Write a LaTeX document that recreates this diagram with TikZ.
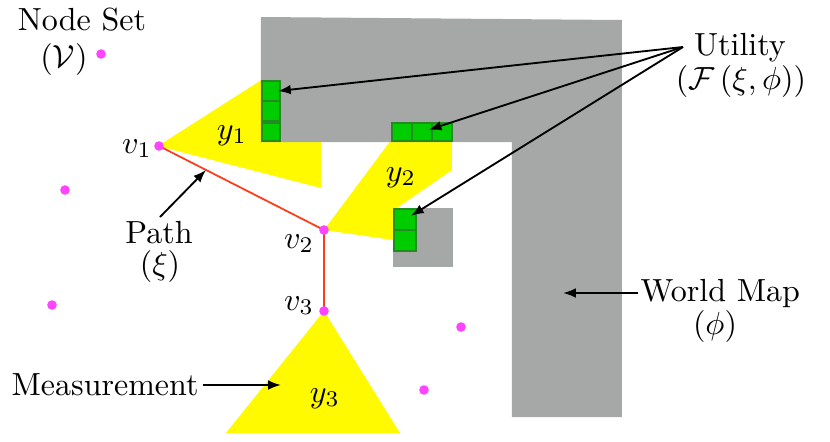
\documentclass[tikz,border=0pt]{standalone}
\usetikzlibrary{arrows.meta,calc}
\definecolor{mapgray}{RGB}{165,168,166}
\definecolor{fovyellow}{RGB}{255,250,0}
\definecolor{cellgreen}{RGB}{0,204,0}
\definecolor{celledge}{RGB}{34,140,34}
\definecolor{dotmag}{RGB}{255,68,255}
\definecolor{pathred}{RGB}{255,59,26}
\tikzset{
  lbl/.style={inner sep=0pt,anchor=base,font=\fontsize{10}{11.56}\selectfont},
  cell/.style={draw=celledge,line width=0.4pt,fill=cellgreen,inner sep=0pt,outer sep=0pt},
  arr/.style={draw=black,line width=0.58pt,-{Latex[length=4pt,width=3pt]}},
  dot/.style={circle,fill=dotmag,inner sep=0pt,minimum size=3pt},
  fov/.style={fill=fovyellow},
}
\begin{document}
\begin{tikzpicture}[x=0.3125pt,y=-0.3125pt]
\useasboundingbox[fill=white] (0,0) rectangle (830,442);
% fields of view
\fill[fov] (158,146) -- (321,42) -- (321,188) -- cycle;
\fill[fov] (324,230) -- (406,120) -- (452,120) -- (452,170) -- (396,208.5) -- (400,241) -- cycle;
\fill[fov] (324,311) -- (400,433) -- (226,433) -- cycle;
% world map
\fill[mapgray] (261,17) -- (622,20) -- (622,417) -- (512,417) -- (512,142) -- (261,142) -- cycle;
\fill[mapgray] (393,208) rectangle (453,267);
% utility cells
\path[cell] (262,81) rectangle (280,101) coordinate[pos=0.5] (c1);
\path[cell] (262,101) rectangle (280,121);
\path[cell] (262,123) rectangle (280,141);
\path[cell] (392,123) rectangle (412,141);
\path[cell] (412,123) rectangle (432,141) coordinate[pos=0.5] (c5);
\path[cell] (432,123) rectangle (452,141);
\path[cell] (394,209) rectangle (416,230) coordinate[pos=0.5] (c7);
\path[cell] (394,230) rectangle (416,251);
% path
\coordinate (v1) at (159,146);
\coordinate (v2) at (324,230);
\coordinate (v3) at (324,311);
\draw[pathred,line width=0.55pt] (v1) -- (v2) -- (v3);
% nodes
\node[dot] (n1) at (101,54) {};
\node[dot] (n2) at (65,190) {};
\node[dot] (n3) at (52,305) {};
\node[dot] (n4) at (461,327) {};
\node[dot] (n5) at (424,390) {};
\node[dot] (d1) at (v1) {};
\node[dot] (d2) at (v2) {};
\node[dot] (d3) at (v3) {};
% labels
\node[lbl] (ns) at (82,30) {Node Set};
\node[lbl] (nsv) at (64,67) {$(\mathcal{V})$};
\node[lbl] (ut) at (740,55) {Utility};
\node[lbl] (utf) at (741,89) {$(\mathcal{F}\left(\xi,\phi\right))$};
\node[lbl] (pa) at (159,243) {Path};
\node[lbl] (pax) at (160,274) {$(\xi)$};
\node[lbl,anchor=base west] (wm) at (640,301) {World Map};
\node[lbl] (wmp) at (715,334) {$(\phi)$};
\node[lbl,anchor=base west] (me) at (11,395) {Measurement};
\node[lbl] (lv1) at (137,153) {$v_1$};
\node[lbl] (lv2) at (299,248) {$v_2$};
\node[lbl] (lv3) at (299,310) {$v_3$};
\node[lbl] (ly1) at (232,139) {$y_1$};
\node[lbl] (ly2) at (401,181) {$y_2$};
\node[lbl] (ly3) at (325,402) {$y_3$};
% arrows
\coordinate (us) at (683,47);
\draw[arr] (us) -- ($(c1)+(7,0)$);
\draw[arr,shorten >=2.2pt] (us) -- (c5);
\draw[arr,shorten >=2.2pt] (us) -- (c7);
\draw[arr] (160,217) -- ($(v1)!0.285!(v2)$);
\coordinate (wmt) at (563,293);
\draw[arr] (638,293) -- (wmt);
\coordinate (met) at (281,385);
\draw[arr] (203,385) -- (met);
\end{tikzpicture}
\end{document}
